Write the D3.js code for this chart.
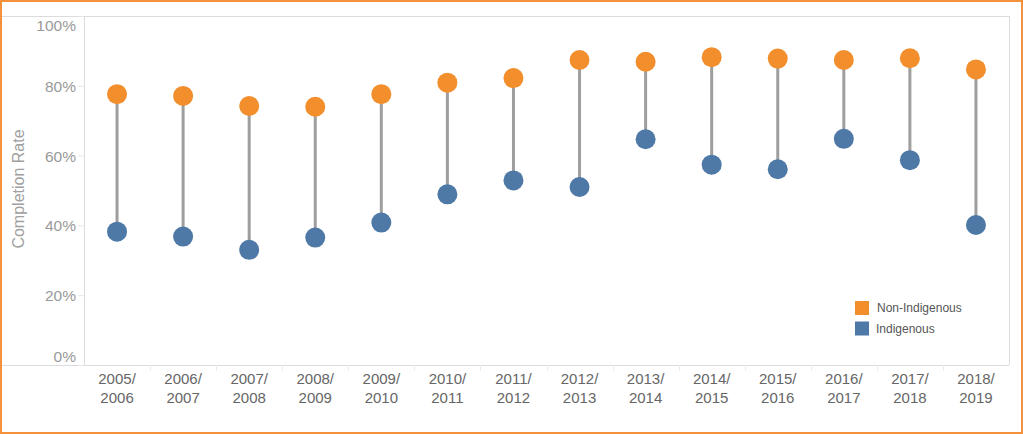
<!DOCTYPE html>
<html><head><meta charset="utf-8">
<script src="https://cdn.jsdelivr.net/npm/d3@7"></script>
<style>
html,body{margin:0;padding:0;background:#fff;}
svg{display:block;}
text{font-family:"Liberation Sans",Arial,sans-serif;}
</style></head>
<body>
<svg id="chart" width="1023" height="434"></svg>
<script>
const categories = ["2005/2006","2006/2007","2007/2008","2008/2009","2009/2010","2010/2011","2011/2012","2012/2013","2013/2014","2014/2015","2015/2016","2016/2017","2017/2018","2018/2019"];
const nonIndigenous = [77.6,77.1,74.2,74.0,77.6,80.9,82.2,87.4,86.9,88.2,87.8,87.4,87.9,84.7];
const indigenous = [38.2,36.8,33.0,36.5,40.8,48.9,52.9,51.0,64.7,57.4,56.1,64.8,58.7,40.1];
const yTicks = [0,20,40,60,80,100];
const seriesNames = ["Non-Indigenous","Indigenous"];
const colors = ["#F28E2B","#4E79A7"];

(function(){
const svg = d3.select("#chart");
const W = 1023, H = 434;
const mLeft = 84, mRight = 1009, mTop = 16, mBottom = 365;

const x = d3.scaleBand().domain(categories).range([mLeft, mRight]).padding(0);
const y = d3.scaleLinear().domain([0,100]).range([mBottom, mTop]);

// outer orange border
svg.append("rect").attr("x",1).attr("y",1).attr("width",W-2).attr("height",H-2)
  .attr("fill","none").attr("stroke","#F5913A").attr("stroke-width",2);

// frame lines
const frame = svg.append("g").attr("stroke","#dcdcdc").attr("stroke-width",1).attr("shape-rendering","crispEdges");
frame.append("line").attr("x1",2).attr("x2",mRight).attr("y1",mTop+0.5).attr("y2",mTop+0.5);
frame.append("line").attr("x1",mRight+0.5).attr("x2",mRight+0.5).attr("y1",mTop).attr("y2",mBottom);
frame.append("line").attr("x1",2).attr("x2",mRight).attr("y1",mBottom+0.5).attr("y2",mBottom+0.5);

// y axis
const yAxis = svg.append("g").attr("transform",`translate(${mLeft},0)`)
  .call(d3.axisLeft(y).tickValues(yTicks).tickSize(6).tickPadding(2).tickFormat(d => d + "%"));
yAxis.select(".domain").attr("stroke","#dcdcdc");
yAxis.selectAll(".tick line").attr("stroke","#e6e6e6");
yAxis.selectAll(".tick text").attr("fill","#999").style("font-size","15.5px")
  .attr("dy", d => d === 0 ? "-0.25em" : d === 100 ? "0.95em" : "0.35em");

// y title
svg.append("text").attr("transform","translate(24,189) rotate(-90)")
  .attr("text-anchor","middle").attr("fill","#a0a0a0").style("font-size","16px").text("Completion Rate");

// x axis with labels
const xAxis = svg.append("g").attr("transform",`translate(0,${mBottom})`)
  .call(d3.axisBottom(x).tickSize(0).tickPadding(0));
xAxis.select(".domain").remove();
xAxis.selectAll(".tick text").each(function(d){
  const parts = d.split("/");
  const t = d3.select(this).text(null).attr("fill","#666").style("font-size","15px").attr("y",0).attr("dy",null);
  t.append("tspan").attr("x",0).attr("y",18.5).text(parts[0] + "/");
  t.append("tspan").attr("x",0).attr("y",37.5).text(parts[1]);
});
// separator ticks at band boundaries
svg.append("g").selectAll("line").data(categories.slice(1)).join("line")
  .attr("x1", d => Math.round(x(d)) + 0.5).attr("x2", d => Math.round(x(d)) + 0.5)
  .attr("y1", mBottom).attr("y2", mBottom + 6)
  .attr("stroke","#ececec").attr("stroke-width",1);

// dumbbell lines
const cx = d => x(d) + x.bandwidth()/2;
svg.append("g").selectAll("line").data(categories).join("line")
  .attr("x1", cx).attr("x2", cx)
  .attr("y1", (d,i) => y(nonIndigenous[i])).attr("y2", (d,i) => y(indigenous[i]))
  .attr("stroke","#9e9e9e").attr("stroke-width",3);

// dots
[nonIndigenous, indigenous].forEach((vals, s) => {
  svg.append("g").selectAll("circle").data(categories).join("circle")
    .attr("cx", cx).attr("cy", (d,i) => y(vals[i])).attr("r", 10)
    .attr("fill", colors[s]);
});

// legend
const lg = svg.append("g").attr("transform","translate(855,301)");
seriesNames.forEach((n, i) => {
  const g = lg.append("g").attr("transform",`translate(0,${i*20.5})`);
  g.append("rect").attr("width",14).attr("height",14).attr("fill",colors[i]);
  g.append("text").attr("x", i === 0 ? 22 : 21).attr("y",7).attr("dy","0.35em")
    .attr("fill","#555").style("font-size","12px").text(n);
});
})();
</script>
</body></html>
